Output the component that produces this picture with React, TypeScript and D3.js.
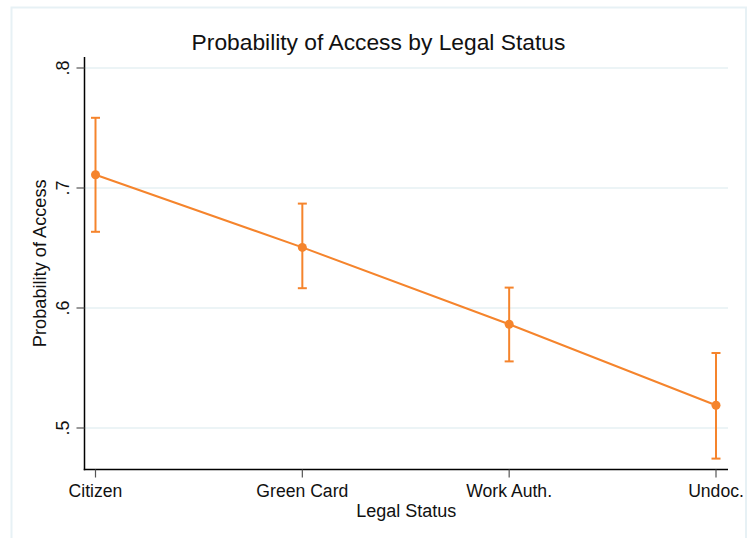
import React from "react";
import * as d3 from "d3";

const categories = ["Citizen", "Green Card", "Work Auth.", "Undoc."];
const estimates = [0.711, 0.6505, 0.5865, 0.519];
const ciLower = [0.6635, 0.6165, 0.5555, 0.4745];
const ciUpper = [0.7585, 0.687, 0.617, 0.5625];
const yTicks = [0.5, 0.6, 0.7, 0.8];
const yTickLabels = [".5", ".6", ".7", ".8"];

const W = 754;
const H = 538;
const ORANGE = "#f5842c";
const GRID = "#e6f0f3";
const FONT = "'Liberation Sans', Arial, sans-serif";

export default function App() {
  const plotLeft = 84.5;
  const plotRight = 728;
  const plotTop = 57;
  const plotBottom = 469.5;

  const x = d3.scalePoint<string>().domain(categories).range([95.5, 716]);
  const y = d3.scaleLinear().domain([0.5, 0.8]).range([428, 68]);

  const line = d3
    .line<number>()
    .x((_, i) => x(categories[i]) as number)
    .y((d) => y(d));

  const capHalf = 4.5;

  return (
    <svg
      width={W}
      height={H}
      style={{ position: "absolute", left: 0, top: 0, background: "#fff" }}
      fontFamily={FONT}
    >
      <rect x={0} y={0} width={W} height={H} fill="#fff" />
      {/* outer frame */}
      <rect x={11.5} y={7.5} width={734.5} height={H} fill="none" stroke="#e7f1f5" strokeWidth={2} />

      {/* title */}
      <text x={378.5} y={50} textAnchor="middle" fontSize={22.8} fill="#111">
        Probability of Access by Legal Status
      </text>

      {/* gridlines */}
      {yTicks.map((t) => (
        <line key={"g" + t} x1={plotLeft} x2={plotRight} y1={y(t)} y2={y(t)} stroke={GRID} strokeWidth={1.5} />
      ))}

      {/* y axis */}
      <line x1={plotLeft} x2={plotLeft} y1={plotTop} y2={plotBottom + 0.75} stroke="#000" strokeWidth={1.5} />
      {yTicks.map((t, i) => (
        <g key={"yt" + t}>
          <line x1={plotLeft - 8} x2={plotLeft} y1={y(t)} y2={y(t)} stroke="#555" strokeWidth={1.2} />
          <text
            transform={`translate(${69},${y(t)}) rotate(-90)`}
            textAnchor="middle"
            fontSize={18}
            fill="#111"
          >
            {yTickLabels[i]}
          </text>
        </g>
      ))}
      <text
        transform={`translate(${46},${(plotTop + plotBottom) / 2}) rotate(-90)`}
        textAnchor="middle"
        fontSize={18.2}
        fill="#111"
      >
        Probability of Access
      </text>

      {/* x axis */}
      <line x1={plotLeft - 0.75} x2={plotRight} y1={plotBottom} y2={plotBottom} stroke="#000" strokeWidth={1.5} />
      {categories.map((c) => (
        <g key={"xt" + c}>
          <line x1={x(c)} x2={x(c)} y1={plotBottom} y2={plotBottom + 8} stroke="#555" strokeWidth={1.2} />
          <text x={x(c)} y={497} textAnchor="middle" fontSize={17.6} fill="#111">
            {c}
          </text>
        </g>
      ))}
      <text x={(plotLeft + plotRight) / 2} y={517} textAnchor="middle" fontSize={18} fill="#111">
        Legal Status
      </text>

      {/* connecting line */}
      <path d={line(estimates) || ""} fill="none" stroke={ORANGE} strokeWidth={2} />

      {/* error bars */}
      {categories.map((c, i) => {
        const cx = x(c) as number;
        return (
          <g key={"ci" + c} stroke={ORANGE} strokeWidth={2}>
            <line x1={cx} x2={cx} y1={y(ciLower[i])} y2={y(ciUpper[i])} />
            <line x1={cx - capHalf} x2={cx + capHalf} y1={y(ciLower[i])} y2={y(ciLower[i])} />
            <line x1={cx - capHalf} x2={cx + capHalf} y1={y(ciUpper[i])} y2={y(ciUpper[i])} />
          </g>
        );
      })}

      {/* markers */}
      {categories.map((c, i) => (
        <circle key={"m" + c} cx={x(c)} cy={y(estimates[i])} r={4.5} fill={ORANGE} />
      ))}
    </svg>
  );
}
